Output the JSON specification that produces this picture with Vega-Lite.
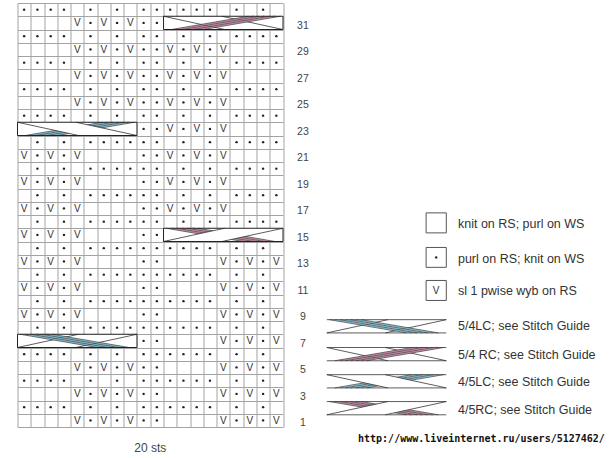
{
"$schema":"https://vega.github.io/schema/vega-lite/v6.json",
"width":265.5,"height":424,
"autosize":{"type":"none"},
"padding":{"left":17.5,"top":3,"right":327,"bottom":31},
"background":"white",
"config":{"view":{"stroke":null},"axis":{"gridColor":"#a3a3a3","gridWidth":1,"gridOpacity":1,"labels":false,"ticks":false,"domain":false,"title":null}},
"datasets":{
"dots":[
{"c":1,"r":32},{"c":2,"r":32},{"c":3,"r":32},{"c":4,"r":32},{"c":6,"r":32},{"c":8,"r":32},{"c":10,"r":32},{"c":11,"r":32},{"c":12,"r":32},{"c":13,"r":32},{"c":14,"r":32},{"c":15,"r":32},{"c":17,"r":32},{"c":19,"r":32},
{"c":6,"r":31},{"c":8,"r":31},{"c":10,"r":31},{"c":11,"r":31},
{"c":1,"r":30},{"c":2,"r":30},{"c":3,"r":30},{"c":4,"r":30},{"c":6,"r":30},{"c":8,"r":30},{"c":10,"r":30},{"c":11,"r":30},{"c":13,"r":30},{"c":15,"r":30},{"c":17,"r":30},{"c":18,"r":30},{"c":19,"r":30},{"c":20,"r":30},
{"c":6,"r":29},{"c":8,"r":29},{"c":10,"r":29},{"c":11,"r":29},{"c":13,"r":29},{"c":15,"r":29},
{"c":1,"r":28},{"c":2,"r":28},{"c":3,"r":28},{"c":4,"r":28},{"c":6,"r":28},{"c":8,"r":28},{"c":10,"r":28},{"c":11,"r":28},{"c":13,"r":28},{"c":15,"r":28},{"c":17,"r":28},{"c":18,"r":28},{"c":19,"r":28},{"c":20,"r":28},
{"c":6,"r":27},{"c":8,"r":27},{"c":10,"r":27},{"c":11,"r":27},{"c":13,"r":27},{"c":15,"r":27},
{"c":1,"r":26},{"c":2,"r":26},{"c":3,"r":26},{"c":4,"r":26},{"c":6,"r":26},{"c":8,"r":26},{"c":10,"r":26},{"c":11,"r":26},{"c":13,"r":26},{"c":15,"r":26},{"c":17,"r":26},{"c":18,"r":26},{"c":19,"r":26},{"c":20,"r":26},
{"c":6,"r":25},{"c":8,"r":25},{"c":10,"r":25},{"c":11,"r":25},{"c":13,"r":25},{"c":15,"r":25},
{"c":1,"r":24},{"c":2,"r":24},{"c":3,"r":24},{"c":4,"r":24},{"c":6,"r":24},{"c":8,"r":24},{"c":10,"r":24},{"c":11,"r":24},{"c":13,"r":24},{"c":15,"r":24},{"c":17,"r":24},{"c":18,"r":24},{"c":19,"r":24},{"c":20,"r":24},
{"c":10,"r":23},{"c":11,"r":23},{"c":13,"r":23},{"c":15,"r":23},
{"c":2,"r":22},{"c":4,"r":22},{"c":6,"r":22},{"c":7,"r":22},{"c":8,"r":22},{"c":9,"r":22},{"c":10,"r":22},{"c":11,"r":22},{"c":13,"r":22},{"c":15,"r":22},{"c":17,"r":22},{"c":18,"r":22},{"c":19,"r":22},{"c":20,"r":22},
{"c":2,"r":21},{"c":4,"r":21},{"c":10,"r":21},{"c":11,"r":21},{"c":13,"r":21},{"c":15,"r":21},
{"c":2,"r":20},{"c":4,"r":20},{"c":6,"r":20},{"c":7,"r":20},{"c":8,"r":20},{"c":9,"r":20},{"c":10,"r":20},{"c":11,"r":20},{"c":13,"r":20},{"c":15,"r":20},{"c":17,"r":20},{"c":18,"r":20},{"c":19,"r":20},{"c":20,"r":20},
{"c":2,"r":19},{"c":4,"r":19},{"c":10,"r":19},{"c":11,"r":19},{"c":13,"r":19},{"c":15,"r":19},
{"c":2,"r":18},{"c":4,"r":18},{"c":6,"r":18},{"c":7,"r":18},{"c":8,"r":18},{"c":9,"r":18},{"c":10,"r":18},{"c":11,"r":18},{"c":13,"r":18},{"c":15,"r":18},{"c":17,"r":18},{"c":18,"r":18},{"c":19,"r":18},{"c":20,"r":18},
{"c":2,"r":17},{"c":4,"r":17},{"c":10,"r":17},{"c":11,"r":17},{"c":13,"r":17},{"c":15,"r":17},
{"c":2,"r":16},{"c":4,"r":16},{"c":6,"r":16},{"c":7,"r":16},{"c":8,"r":16},{"c":9,"r":16},{"c":10,"r":16},{"c":11,"r":16},{"c":13,"r":16},{"c":15,"r":16},{"c":17,"r":16},{"c":18,"r":16},{"c":19,"r":16},{"c":20,"r":16},
{"c":2,"r":15},{"c":4,"r":15},{"c":10,"r":15},{"c":11,"r":15},
{"c":2,"r":14},{"c":4,"r":14},{"c":6,"r":14},{"c":7,"r":14},{"c":8,"r":14},{"c":9,"r":14},{"c":10,"r":14},{"c":11,"r":14},{"c":12,"r":14},{"c":13,"r":14},{"c":14,"r":14},{"c":15,"r":14},{"c":17,"r":14},{"c":19,"r":14},
{"c":2,"r":13},{"c":4,"r":13},{"c":10,"r":13},{"c":11,"r":13},{"c":17,"r":13},{"c":19,"r":13},
{"c":2,"r":12},{"c":4,"r":12},{"c":6,"r":12},{"c":7,"r":12},{"c":8,"r":12},{"c":9,"r":12},{"c":10,"r":12},{"c":11,"r":12},{"c":12,"r":12},{"c":13,"r":12},{"c":14,"r":12},{"c":15,"r":12},{"c":17,"r":12},{"c":19,"r":12},
{"c":2,"r":11},{"c":4,"r":11},{"c":10,"r":11},{"c":11,"r":11},{"c":17,"r":11},{"c":19,"r":11},
{"c":2,"r":10},{"c":4,"r":10},{"c":6,"r":10},{"c":7,"r":10},{"c":8,"r":10},{"c":9,"r":10},{"c":10,"r":10},{"c":11,"r":10},{"c":12,"r":10},{"c":13,"r":10},{"c":14,"r":10},{"c":15,"r":10},{"c":17,"r":10},{"c":19,"r":10},
{"c":2,"r":9},{"c":4,"r":9},{"c":10,"r":9},{"c":11,"r":9},{"c":17,"r":9},{"c":19,"r":9},
{"c":2,"r":8},{"c":4,"r":8},{"c":6,"r":8},{"c":7,"r":8},{"c":8,"r":8},{"c":9,"r":8},{"c":10,"r":8},{"c":11,"r":8},{"c":12,"r":8},{"c":13,"r":8},{"c":14,"r":8},{"c":15,"r":8},{"c":17,"r":8},{"c":19,"r":8},
{"c":10,"r":7},{"c":11,"r":7},{"c":17,"r":7},{"c":19,"r":7},
{"c":1,"r":6},{"c":2,"r":6},{"c":3,"r":6},{"c":4,"r":6},{"c":6,"r":6},{"c":8,"r":6},{"c":10,"r":6},{"c":11,"r":6},{"c":12,"r":6},{"c":13,"r":6},{"c":14,"r":6},{"c":15,"r":6},{"c":17,"r":6},{"c":19,"r":6},
{"c":6,"r":5},{"c":8,"r":5},{"c":10,"r":5},{"c":11,"r":5},{"c":17,"r":5},{"c":19,"r":5},
{"c":1,"r":4},{"c":2,"r":4},{"c":3,"r":4},{"c":4,"r":4},{"c":6,"r":4},{"c":8,"r":4},{"c":10,"r":4},{"c":11,"r":4},{"c":12,"r":4},{"c":13,"r":4},{"c":14,"r":4},{"c":15,"r":4},{"c":17,"r":4},{"c":19,"r":4},
{"c":6,"r":3},{"c":8,"r":3},{"c":10,"r":3},{"c":11,"r":3},{"c":17,"r":3},{"c":19,"r":3},
{"c":1,"r":2},{"c":2,"r":2},{"c":3,"r":2},{"c":4,"r":2},{"c":6,"r":2},{"c":8,"r":2},{"c":10,"r":2},{"c":11,"r":2},{"c":12,"r":2},{"c":13,"r":2},{"c":14,"r":2},{"c":15,"r":2},{"c":17,"r":2},{"c":19,"r":2},
{"c":6,"r":1},{"c":8,"r":1},{"c":10,"r":1},{"c":11,"r":1},{"c":17,"r":1},{"c":19,"r":1}
],
"vees":[
{"c":5,"r":31},{"c":7,"r":31},{"c":9,"r":31},
{"c":5,"r":29},{"c":7,"r":29},{"c":9,"r":29},{"c":12,"r":29},{"c":14,"r":29},{"c":16,"r":29},
{"c":5,"r":27},{"c":7,"r":27},{"c":9,"r":27},{"c":12,"r":27},{"c":14,"r":27},{"c":16,"r":27},
{"c":5,"r":25},{"c":7,"r":25},{"c":9,"r":25},{"c":12,"r":25},{"c":14,"r":25},{"c":16,"r":25},
{"c":12,"r":23},{"c":14,"r":23},{"c":16,"r":23},
{"c":1,"r":21},{"c":3,"r":21},{"c":5,"r":21},{"c":12,"r":21},{"c":14,"r":21},{"c":16,"r":21},
{"c":1,"r":19},{"c":3,"r":19},{"c":5,"r":19},{"c":12,"r":19},{"c":14,"r":19},{"c":16,"r":19},
{"c":1,"r":17},{"c":3,"r":17},{"c":5,"r":17},{"c":12,"r":17},{"c":14,"r":17},{"c":16,"r":17},
{"c":1,"r":15},{"c":3,"r":15},{"c":5,"r":15},
{"c":1,"r":13},{"c":3,"r":13},{"c":5,"r":13},{"c":16,"r":13},{"c":18,"r":13},{"c":20,"r":13},
{"c":1,"r":11},{"c":3,"r":11},{"c":5,"r":11},{"c":16,"r":11},{"c":18,"r":11},{"c":20,"r":11},
{"c":1,"r":9},{"c":3,"r":9},{"c":5,"r":9},{"c":16,"r":9},{"c":18,"r":9},{"c":20,"r":9},
{"c":16,"r":7},{"c":18,"r":7},{"c":20,"r":7},
{"c":5,"r":5},{"c":7,"r":5},{"c":9,"r":5},{"c":16,"r":5},{"c":18,"r":5},{"c":20,"r":5},
{"c":5,"r":3},{"c":7,"r":3},{"c":9,"r":3},{"c":16,"r":3},{"c":18,"r":3},{"c":20,"r":3},
{"c":5,"r":1},{"c":7,"r":1},{"c":9,"r":1},{"c":16,"r":1},{"c":18,"r":1},{"c":20,"r":1}
],
"frames":[
{"cable":"5/4 RC","x":11.5,"x2":20.5,"y":30.5,"y2":31.5},
{"cable":"4/5LC","x":0.5,"x2":9.5,"y":22.5,"y2":23.5},
{"cable":"4/5RC","x":11.5,"x2":20.5,"y":14.5,"y2":15.5},
{"cable":"5/4LC","x":0.5,"x2":9.5,"y":6.5,"y2":7.5}
],
"segs":[
{"id":"C1","k":"back","x":11.5,"y":31.5,"x2":16.1,"y2":30.5},
{"id":"C1","k":"back","x":15.9,"y":31.5,"x2":20.5,"y2":30.5},
{"id":"C1","k":"pink","x":19.9,"y":31.5,"x2":14.1,"y2":30.5},
{"id":"C1","k":"pink","x":19.1,"y":31.5,"x2":13.3,"y2":30.5},
{"id":"C1","k":"pink","x":18.3,"y":31.5,"x2":12.5,"y2":30.5},
{"id":"C1","k":"edge","x":20.3,"y":31.5,"x2":14.5,"y2":30.5},
{"id":"C1","k":"edge","x":19.5,"y":31.5,"x2":13.7,"y2":30.5},
{"id":"C1","k":"edge","x":18.7,"y":31.5,"x2":12.9,"y2":30.5},
{"id":"C1","k":"edge","x":17.9,"y":31.5,"x2":12.1,"y2":30.5},
{"id":"C2","k":"blue","x":8.9,"y":23.5,"x2":3.1,"y2":22.5},
{"id":"C2","k":"blue","x":8.1,"y":23.5,"x2":2.3,"y2":22.5},
{"id":"C2","k":"blue","x":7.3,"y":23.5,"x2":1.5,"y2":22.5},
{"id":"C2","k":"edge","x":9.3,"y":23.5,"x2":3.5,"y2":22.5},
{"id":"C2","k":"edge","x":8.5,"y":23.5,"x2":2.7,"y2":22.5},
{"id":"C2","k":"edge","x":7.7,"y":23.5,"x2":1.9,"y2":22.5},
{"id":"C2","k":"edge","x":6.9,"y":23.5,"x2":1.1,"y2":22.5},
{"id":"C2","k":"front","x":0.5,"y":23.5,"x2":5.1,"y2":22.5},
{"id":"C2","k":"front","x":4.9,"y":23.5,"x2":9.5,"y2":22.5},
{"id":"C3","k":"pink","x":12.1,"y":15.5,"x2":17.9,"y2":14.5},
{"id":"C3","k":"pink","x":12.9,"y":15.5,"x2":18.7,"y2":14.5},
{"id":"C3","k":"pink","x":13.7,"y":15.5,"x2":19.5,"y2":14.5},
{"id":"C3","k":"edge","x":11.7,"y":15.5,"x2":17.5,"y2":14.5},
{"id":"C3","k":"edge","x":12.5,"y":15.5,"x2":18.3,"y2":14.5},
{"id":"C3","k":"edge","x":13.3,"y":15.5,"x2":19.1,"y2":14.5},
{"id":"C3","k":"edge","x":14.1,"y":15.5,"x2":19.9,"y2":14.5},
{"id":"C3","k":"front","x":11.5,"y":14.5,"x2":16.1,"y2":15.5},
{"id":"C3","k":"front","x":15.9,"y":14.5,"x2":20.5,"y2":15.5},
{"id":"C4","k":"back","x":0.5,"y":6.5,"x2":5.1,"y2":7.5},
{"id":"C4","k":"back","x":4.9,"y":6.5,"x2":9.5,"y2":7.5},
{"id":"C4","k":"blue","x":1.1,"y":7.5,"x2":6.9,"y2":6.5},
{"id":"C4","k":"blue","x":1.9,"y":7.5,"x2":7.7,"y2":6.5},
{"id":"C4","k":"blue","x":2.7,"y":7.5,"x2":8.5,"y2":6.5},
{"id":"C4","k":"edge","x":0.7,"y":7.5,"x2":6.5,"y2":6.5},
{"id":"C4","k":"edge","x":1.5,"y":7.5,"x2":7.3,"y2":6.5},
{"id":"C4","k":"edge","x":2.3,"y":7.5,"x2":8.1,"y2":6.5},
{"id":"C4","k":"edge","x":3.1,"y":7.5,"x2":8.9,"y2":6.5},
{"id":"L1","k":"front","x":23.8,"y":8.6,"x2":32.8,"y2":8.6},
{"id":"L1","k":"front","x":23.8,"y":7.6,"x2":32.8,"y2":7.6},
{"id":"L1","k":"back","x":23.8,"y":7.6,"x2":28.4,"y2":8.6},
{"id":"L1","k":"back","x":28.2,"y":7.6,"x2":32.8,"y2":8.6},
{"id":"L1","k":"blue","x":24.4,"y":8.6,"x2":30.2,"y2":7.6},
{"id":"L1","k":"blue","x":25.2,"y":8.6,"x2":31.0,"y2":7.6},
{"id":"L1","k":"blue","x":26.0,"y":8.6,"x2":31.8,"y2":7.6},
{"id":"L1","k":"edge","x":24.0,"y":8.6,"x2":29.8,"y2":7.6},
{"id":"L1","k":"edge","x":24.8,"y":8.6,"x2":30.6,"y2":7.6},
{"id":"L1","k":"edge","x":25.6,"y":8.6,"x2":31.4,"y2":7.6},
{"id":"L1","k":"edge","x":26.4,"y":8.6,"x2":32.2,"y2":7.6},
{"id":"L2","k":"front","x":23.8,"y":6.5,"x2":32.8,"y2":6.5},
{"id":"L2","k":"front","x":23.8,"y":5.5,"x2":32.8,"y2":5.5},
{"id":"L2","k":"back","x":23.8,"y":6.5,"x2":28.4,"y2":5.5},
{"id":"L2","k":"back","x":28.2,"y":6.5,"x2":32.8,"y2":5.5},
{"id":"L2","k":"pink","x":32.2,"y":6.5,"x2":26.4,"y2":5.5},
{"id":"L2","k":"pink","x":31.4,"y":6.5,"x2":25.6,"y2":5.5},
{"id":"L2","k":"pink","x":30.6,"y":6.5,"x2":24.8,"y2":5.5},
{"id":"L2","k":"edge","x":32.6,"y":6.5,"x2":26.8,"y2":5.5},
{"id":"L2","k":"edge","x":31.8,"y":6.5,"x2":26.0,"y2":5.5},
{"id":"L2","k":"edge","x":31.0,"y":6.5,"x2":25.2,"y2":5.5},
{"id":"L2","k":"edge","x":30.2,"y":6.5,"x2":24.4,"y2":5.5},
{"id":"L3","k":"front","x":23.8,"y":4.45,"x2":32.8,"y2":4.45},
{"id":"L3","k":"front","x":23.8,"y":3.45,"x2":32.8,"y2":3.45},
{"id":"L3","k":"blue","x":32.2,"y":4.45,"x2":26.4,"y2":3.45},
{"id":"L3","k":"blue","x":31.4,"y":4.45,"x2":25.6,"y2":3.45},
{"id":"L3","k":"blue","x":30.6,"y":4.45,"x2":24.8,"y2":3.45},
{"id":"L3","k":"edge","x":32.6,"y":4.45,"x2":26.8,"y2":3.45},
{"id":"L3","k":"edge","x":31.8,"y":4.45,"x2":26.0,"y2":3.45},
{"id":"L3","k":"edge","x":31.0,"y":4.45,"x2":25.2,"y2":3.45},
{"id":"L3","k":"edge","x":30.2,"y":4.45,"x2":24.4,"y2":3.45},
{"id":"L3","k":"front","x":23.8,"y":4.45,"x2":28.4,"y2":3.45},
{"id":"L3","k":"front","x":28.2,"y":4.45,"x2":32.8,"y2":3.45},
{"id":"L4","k":"front","x":23.8,"y":2.42,"x2":32.8,"y2":2.42},
{"id":"L4","k":"front","x":23.8,"y":1.42,"x2":32.8,"y2":1.42},
{"id":"L4","k":"pink","x":24.4,"y":2.42,"x2":30.2,"y2":1.42},
{"id":"L4","k":"pink","x":25.2,"y":2.42,"x2":31.0,"y2":1.42},
{"id":"L4","k":"pink","x":26.0,"y":2.42,"x2":31.8,"y2":1.42},
{"id":"L4","k":"edge","x":24.0,"y":2.42,"x2":29.8,"y2":1.42},
{"id":"L4","k":"edge","x":24.8,"y":2.42,"x2":30.6,"y2":1.42},
{"id":"L4","k":"edge","x":25.6,"y":2.42,"x2":31.4,"y2":1.42},
{"id":"L4","k":"edge","x":26.4,"y":2.42,"x2":32.2,"y2":1.42},
{"id":"L4","k":"front","x":23.8,"y":1.42,"x2":28.4,"y2":2.42},
{"id":"L4","k":"front","x":28.2,"y":1.42,"x2":32.8,"y2":2.42}
],
"fronts":[
{"id":"C2","x":0.5,"lo":23.5,"hi":23.5},{"id":"C2","x":4.9,"lo":22.5435,"hi":23.5},{"id":"C2","x":5.1,"lo":22.5,"hi":23.457},{"id":"C2","x":9.5,"lo":22.5,"hi":22.5},
{"id":"C3","x":11.5,"lo":14.5,"hi":14.5},{"id":"C3","x":15.9,"lo":14.5,"hi":15.457},{"id":"C3","x":16.1,"lo":14.5435,"hi":15.5},{"id":"C3","x":20.5,"lo":15.5,"hi":15.5},
{"id":"L3","x":23.8,"lo":4.45,"hi":4.45},{"id":"L3","x":28.2,"lo":3.4935,"hi":4.45},{"id":"L3","x":28.4,"lo":3.45,"hi":4.407},{"id":"L3","x":32.8,"lo":3.45,"hi":3.45},
{"id":"L4","x":23.8,"lo":1.42,"hi":1.42},{"id":"L4","x":28.2,"lo":1.42,"hi":2.377},{"id":"L4","x":28.4,"lo":1.4635,"hi":2.42},{"id":"L4","x":32.8,"lo":2.42,"hi":2.42}
],
"boxes":[
{"s":"knit","x":31.28,"x2":32.8,"y":15.15,"y2":16.66,"cx":32.04,"cy":15.9},
{"s":"purl","x":31.28,"x2":32.8,"y":12.55,"y2":14.05,"cx":32.04,"cy":13.3},
{"s":"slip","x":31.28,"x2":32.8,"y":10.05,"y2":11.56,"cx":32.04,"cy":10.8}
],
"keys":[
{"t":"knit on RS; purl on WS","x":33.68,"y":15.83},
{"t":"purl on RS; knit on WS","x":33.68,"y":13.19},
{"t":"sl 1 pwise wyb on RS","x":33.68,"y":10.77},
{"t":"5/4LC; see Stitch Guide","x":33.68,"y":8.09},
{"t":"5/4 RC; see Stitch Guide","x":33.68,"y":5.9},
{"t":"4/5LC; see Stitch Guide","x":33.68,"y":3.86},
{"t":"4/5RC; see Stitch Guide","x":33.68,"y":1.78}
],
"rows":[{"r":1},{"r":3},{"r":5},{"r":7},{"r":9},{"r":11},{"r":13},{"r":15},{"r":17},{"r":19},{"r":21},{"r":23},{"r":25},{"r":27},{"r":29},{"r":31}]
},
"layer":[
{"data":{"name":"dots"},
 "mark":{"type":"point","filled":true,"size":6,"color":"#222","opacity":1},
 "encoding":{
  "x":{"field":"c","type":"quantitative","scale":{"domain":[0.5,20.5],"nice":false,"zero":false},
       "axis":{"values":[0.5,1.5,2.5,3.5,4.5,5.5,6.5,7.5,8.5,9.5,10.5,11.5,12.5,13.5,14.5,15.5,16.5,17.5,18.5,19.5,20.5],"tickCount":100,"grid":true,"labels":false,"ticks":false,"domain":false,"title":null}},
  "y":{"field":"r","type":"quantitative","scale":{"domain":[0.5,32.5],"nice":false,"zero":false},
       "axis":{"values":[0.5,1.5,2.5,3.5,4.5,5.5,6.5,7.5,8.5,9.5,10.5,11.5,12.5,13.5,14.5,15.5,16.5,17.5,18.5,19.5,20.5,21.5,22.5,23.5,24.5,25.5,26.5,27.5,28.5,29.5,30.5,31.5,32.5],"tickCount":100,"grid":true,"labels":false,"ticks":false,"domain":false,"title":null}}
 }},
{"data":{"name":"vees"},
 "mark":{"type":"text","text":"V","font":"Liberation Sans","fontSize":10,"color":"#333","baseline":"middle","align":"center","dy":0.5},
 "encoding":{"x":{"field":"c","type":"quantitative"},"y":{"field":"r","type":"quantitative"}}},
{"data":{"name":"frames"},
 "mark":{"type":"rect","fill":"white","stroke":null},
 "encoding":{"x":{"field":"x","type":"quantitative"},"x2":{"field":"x2"},"y":{"field":"y","type":"quantitative"},"y2":{"field":"y2"}}},
{"data":{"name":"segs"},"transform":[{"filter":"datum.k == 'back'"}],
 "mark":{"type":"rule","color":"#333","strokeWidth":0.8},
 "encoding":{"x":{"field":"x","type":"quantitative"},"y":{"field":"y","type":"quantitative"},"x2":{"field":"x2"},"y2":{"field":"y2"}}},
{"data":{"name":"segs"},"transform":[{"filter":"datum.k == 'pink' || datum.k == 'blue'"}],
 "mark":{"type":"rule","strokeWidth":1.4},
 "encoding":{"x":{"field":"x","type":"quantitative"},"y":{"field":"y","type":"quantitative"},"x2":{"field":"x2"},"y2":{"field":"y2"},
  "color":{"field":"k","type":"nominal","scale":{"domain":["pink","blue"],"range":["#d08aab","#7fc3d8"]},"legend":null}}},
{"data":{"name":"segs"},"transform":[{"filter":"datum.k == 'edge'"}],
 "mark":{"type":"rule","color":"#333","strokeWidth":0.7},
 "encoding":{"x":{"field":"x","type":"quantitative"},"y":{"field":"y","type":"quantitative"},"x2":{"field":"x2"},"y2":{"field":"y2"}}},
{"data":{"name":"fronts"},
 "mark":{"type":"area","color":"white","opacity":1,"orient":"vertical"},
 "encoding":{"x":{"field":"x","type":"quantitative"},"y":{"field":"lo","type":"quantitative"},"y2":{"field":"hi"},"detail":{"field":"id"}}},
{"data":{"name":"segs"},"transform":[{"filter":"datum.k == 'front'"}],
 "mark":{"type":"rule","color":"#333","strokeWidth":0.8},
 "encoding":{"x":{"field":"x","type":"quantitative"},"y":{"field":"y","type":"quantitative"},"x2":{"field":"x2"},"y2":{"field":"y2"}}},
{"data":{"name":"frames"},
 "mark":{"type":"rect","fill":null,"fillOpacity":0,"stroke":"#222","strokeWidth":1},
 "encoding":{"x":{"field":"x","type":"quantitative"},"x2":{"field":"x2"},"y":{"field":"y","type":"quantitative"},"y2":{"field":"y2"}}},
{"data":{"name":"boxes"},
 "mark":{"type":"rect","fill":"white","stroke":"#555","strokeWidth":1},
 "encoding":{"x":{"field":"x","type":"quantitative"},"x2":{"field":"x2"},"y":{"field":"y","type":"quantitative"},"y2":{"field":"y2"}}},
{"data":{"name":"boxes"},"transform":[{"filter":"datum.s == 'purl'"}],
 "mark":{"type":"point","filled":true,"size":6,"color":"#222","opacity":1},
 "encoding":{"x":{"field":"cx","type":"quantitative"},"y":{"field":"cy","type":"quantitative"}}},
{"data":{"name":"boxes"},"transform":[{"filter":"datum.s == 'slip'"}],
 "mark":{"type":"text","text":"V","font":"Liberation Sans","fontSize":10,"color":"#333","baseline":"middle","align":"center","dy":0.5},
 "encoding":{"x":{"field":"cx","type":"quantitative"},"y":{"field":"cy","type":"quantitative"}}},
{"data":{"name":"keys"},
 "mark":{"type":"text","font":"Liberation Sans","fontSize":12.5,"color":"#333","baseline":"middle","align":"left"},
 "encoding":{"x":{"field":"x","type":"quantitative"},"y":{"field":"y","type":"quantitative"},"text":{"field":"t"}}},
{"data":{"name":"rows"},
 "mark":{"type":"text","font":"Liberation Sans","fontSize":10.5,"color":"#444","baseline":"middle","align":"center","yOffset":3},
 "encoding":{"x":{"datum":22.0,"type":"quantitative"},"y":{"field":"r","type":"quantitative"},"text":{"field":"r"}}},
{"data":{"values":[{"t":"20 sts"}]},
 "mark":{"type":"text","font":"Liberation Sans","fontSize":12,"color":"#444","baseline":"middle","align":"center"},
 "encoding":{"x":{"datum":10.5,"type":"quantitative"},"y":{"datum":-1.12,"type":"quantitative"},"text":{"field":"t"}}},
{"data":{"values":[{"t":"http://www.liveinternet.ru/users/5127462/"}]},
 "mark":{"type":"text","font":"DejaVu Sans Mono","fontSize":10,"fontWeight":"bold","color":"#111","baseline":"middle","align":"left"},
 "encoding":{"x":{"datum":26.15,"type":"quantitative"},"y":{"datum":-0.44,"type":"quantitative"},"text":{"field":"t"}}}
]
}
